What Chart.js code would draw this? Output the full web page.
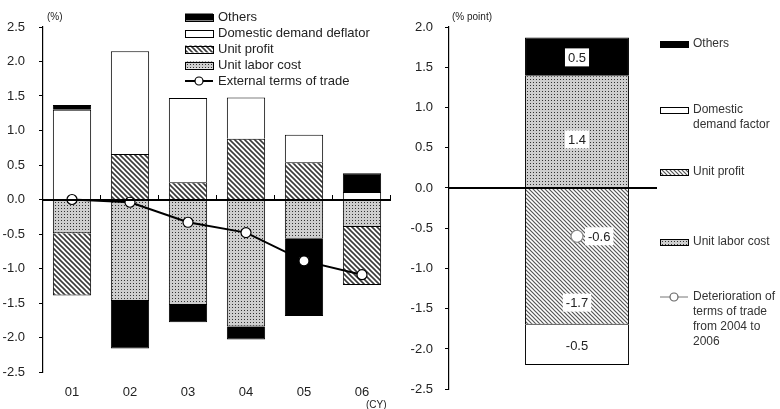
<!DOCTYPE html>
<html>
<head>
<meta charset="utf-8">
<script src="https://cdn.jsdelivr.net/npm/chart.js@4"></script>
<style>
  html, body { margin: 0; padding: 0; background: #fff; }
  #wrap { display: flex; width: 780px; height: 409px; }
  .panel { position: relative; height: 409px; }
</style>
</head>
<body>
<div id="wrap">
  <div class="panel" style="width:400px"><canvas id="left"></canvas></div>
  <div class="panel" style="width:380px"><canvas id="right"></canvas></div>
</div>
<script>
// ---- Left panel: year-on-year contributions (%) ----
const years = ['01', '02', '03', '04', '05', '06'];
const unitLaborCost    = [-0.49, -1.47, -1.53, -1.84, -0.57, -0.40];
const unitProfit       = [-0.90,  0.66,  0.25,  0.88,  0.54, -0.84];
const domesticDeflator = [ 1.30,  1.49,  1.22,  0.60,  0.40,  0.11];
const othersLeft       = [ 0.07, -0.69, -0.25, -0.19, -1.12,  0.27];
const externalTerms    = [ 0.00, -0.04, -0.33, -0.48, -0.89, -1.09];
const leftTickRange    = { min: -2.5, max: 2.5, step: 0.5 };

// ---- Right panel: breakdown of 2004-2006 change (% point) ----
const periodLabel      = ['2004-2006'];
const ulcChange        = [1.4];
const profitChange     = [-1.7];
const domesticChange   = [-0.5];
const othersChange     = [0.47];
const termsChange      = [-0.6];
const rightTickRange   = { min: -2.5, max: 2.0, step: 0.5 };

const FONT = 'Liberation Sans, Arial, sans-serif';
const TEXT = '#222';

function hatchPattern(size, color, width) {
  const c = document.createElement('canvas');
  c.width = c.height = size;
  const g = c.getContext('2d');
  g.fillStyle = '#fff';
  g.fillRect(0, 0, size, size);
  g.strokeStyle = color;
  g.lineWidth = width;
  g.beginPath();
  g.moveTo(-1, -1); g.lineTo(size + 1, size + 1);
  g.moveTo(-2, size - 2); g.lineTo(2, size + 2);
  g.moveTo(size - 2, -2); g.lineTo(size + 2, 2);
  g.stroke();
  return g.createPattern(c, 'repeat');
}

function dotPattern() {
  const c = document.createElement('canvas');
  c.width = c.height = 3;
  const g = c.getContext('2d');
  g.fillStyle = '#cecece';
  g.fillRect(0, 0, 3, 3);
  g.fillStyle = '#333';
  g.fillRect(1, 1, 1, 1);
  return g.createPattern(c, 'repeat');
}

const hatchL = hatchPattern(5, '#3a3a3a', 1.6);
const hatchR = hatchPattern(4, '#555', 1.2);
const dots = dotPattern();

// zero line, optional category separators on it, and free text notes
const axisDecor = {
  id: 'axisDecor',
  afterDatasetsDraw(chart, args, opts) {
    const { ctx, chartArea, scales } = chart;
    const y0 = Math.round(scales.y.getPixelForValue(0));
    const right = chartArea.left + (chartArea.right - chartArea.left) * (opts.zeroExtent || 1);
    ctx.save();
    ctx.fillStyle = '#000';
    ctx.fillRect(chartArea.left, y0 - 1, right - chartArea.left, 2);
    if (opts.separators) {
      const n = chart.data.labels.length;
      for (let i = 1; i <= n; i++) {
        const x = i < n
          ? (scales.x.getPixelForValue(i - 1) + scales.x.getPixelForValue(i)) / 2
          : chartArea.right;
        ctx.fillRect(Math.round(x) - 1, y0 - 5, 1, 5);
      }
    }
    ctx.restore();
  },
  afterDraw(chart, args, opts) {
    const { ctx } = chart;
    ctx.save();
    ctx.fillStyle = TEXT;
    ctx.textBaseline = 'middle';
    (opts.notes || []).forEach(n => {
      ctx.font = `${n.size}px ${FONT}`;
      ctx.textAlign = n.align || 'left';
      ctx.fillText(n.text, n.x, n.y);
    });
    ctx.restore();
  }
};

// legend drawn inside the panel: bar datasets top-down in reverse order, then the line
const panelLegend = {
  id: 'panelLegend',
  afterDraw(chart, args, opts) {
    const { ctx } = chart;
    ctx.save();
    ctx.textBaseline = 'middle';
    ctx.textAlign = 'left';
    ctx.font = `${opts.fontSize}px ${FONT}`;
    const idx = chart.data.datasets.map((d, i) => i);
    const order = idx.slice().reverse().filter(i => chart.data.datasets[i].type !== 'line')
      .concat(idx.filter(i => chart.data.datasets[i].type === 'line'));
    order.forEach((di, k) => {
      const ds = chart.data.datasets[di];
      const y = opts.rows[k];
      const x = opts.x;
      const w = opts.swatchW, h = opts.swatchH;
      if (ds.type === 'line') {
        ctx.strokeStyle = opts.lineColor;
        ctx.lineWidth = opts.lineWidth;
        ctx.beginPath();
        ctx.moveTo(x, y); ctx.lineTo(x + w, y);
        ctx.stroke();
        ctx.beginPath();
        ctx.arc(x + w / 2, y, opts.markerR, 0, Math.PI * 2);
        ctx.fillStyle = '#fff';
        ctx.fill();
        ctx.lineWidth = 1.2;
        ctx.strokeStyle = opts.markerStroke;
        ctx.stroke();
      } else {
        ctx.fillStyle = ds.backgroundColor;
        ctx.fillRect(x, y - h / 2, w, h);
        ctx.strokeStyle = '#000';
        ctx.lineWidth = 1;
        ctx.strokeRect(Math.round(x) + 0.5, Math.round(y - h / 2) + 0.5, w, h);
      }
      ctx.fillStyle = opts.color;
      const lines = (opts.labels && opts.labels[k]) || [ds.label];
      lines.forEach((t, j) => ctx.fillText(t, x + w + opts.gap, y + j * opts.lineStep));
    });
    ctx.restore();
  }
};

// value boxes on the right panel
const valueBoxes = {
  id: 'valueBoxes',
  afterDatasetsDraw(chart) {
    const { ctx } = chart;
    ctx.save();
    ctx.font = `13px ${FONT}`;
    ctx.textAlign = 'center';
    ctx.textBaseline = 'middle';
    chart.data.datasets.forEach((ds, di) => {
      if (!ds.valueBox) return;
      const meta = chart.getDatasetMeta(di);
      meta.data.forEach((el, i) => {
        const text = ds.data[i].toFixed(1);
        const p = el.getCenterPoint ? el.getCenterPoint() : { x: el.x, y: el.y };
        const cx = p.x + (ds.valueBox.dx || 0);
        const cy = p.y + (ds.valueBox.dy || 0);
        const tw = ctx.measureText(text).width;
        const bw = tw + 6, bh = 18;
        const bx = ds.valueBox.align === 'left' ? cx : cx - bw / 2;
        ctx.fillStyle = '#fff';
        ctx.fillRect(bx, cy - bh / 2, bw, bh);
        ctx.fillStyle = TEXT;
        ctx.fillText(text, bx + bw / 2, cy + 1);
      });
    });
    ctx.restore();
  }
};

Chart.defaults.font.family = FONT;
Chart.defaults.color = TEXT;
Chart.defaults.animation = false;

new Chart(document.getElementById('left'), {
  type: 'bar',
  data: {
    labels: years,
    datasets: [
      { label: 'Unit labor cost', data: unitLaborCost, backgroundColor: dots, borderColor: '#000', borderWidth: 1, order: 2 },
      { label: 'Unit profit', data: unitProfit, backgroundColor: hatchL, borderColor: '#000', borderWidth: 1, order: 2 },
      { label: 'Domestic demand deflator', data: domesticDeflator, backgroundColor: '#fff', borderColor: '#000', borderWidth: 1, order: 2 },
      { label: 'Others', data: othersLeft, backgroundColor: '#000', borderColor: '#000', borderWidth: 1, order: 2 },
      { type: 'line', label: 'External terms of trade', data: externalTerms, stack: 'terms',
        borderColor: '#000', borderWidth: 2, pointRadius: 5, pointBackgroundColor: '#fff',
        pointBorderColor: '#000', pointBorderWidth: 1.2, order: 1 }
    ]
  },
  options: {
    responsive: true,
    maintainAspectRatio: false,
    layout: { padding: { top: 27, right: 9, left: 0, bottom: 0 } },
    datasets: { bar: { barPercentage: 0.66, categoryPercentage: 1.0 } },
    scales: {
      x: {
        stacked: true,
        offset: true,
        grid: { display: false, drawTicks: false },
        border: { display: false },
        ticks: { padding: 13, font: { size: 13 }, color: TEXT },
        afterFit(s) { s.height = 37; }
      },
      y: {
        stacked: true,
        min: leftTickRange.min, max: leftTickRange.max,
        ticks: { stepSize: leftTickRange.step, callback: v => v.toFixed(1), font: { size: 13 }, color: TEXT, padding: 14 },
        grid: { drawOnChartArea: false, tickLength: 4, tickColor: '#000' },
        border: { display: true, color: '#000', width: 1.2 },
        afterFit(s) { s.width = 43; }
      }
    },
    plugins: {
      legend: { display: false },
      tooltip: { enabled: false },
      axisDecor: {
        separators: true,
        notes: [
          { text: '(%)', x: 47, y: 17, size: 10 },
          { text: '(CY)', x: 366, y: 405, size: 10 }
        ]
      },
      panelLegend: {
        x: 185, rows: [17, 33, 49, 65, 81], swatchW: 28, swatchH: 7, gap: 5,
        fontSize: 13, color: TEXT, lineStep: 15, lineWidth: 2, lineColor: '#000', markerR: 4, markerStroke: '#000'
      }
    }
  },
  plugins: [axisDecor, panelLegend]
});

new Chart(document.getElementById('right'), {
  type: 'bar',
  data: {
    labels: periodLabel,
    datasets: [
      { label: 'Unit labor cost', data: ulcChange, backgroundColor: dots, borderColor: '#000', borderWidth: 1, order: 2, valueBox: { dy: 8 } },
      { label: 'Unit profit', data: profitChange, backgroundColor: hatchR, borderColor: '#000', borderWidth: 1, order: 2, valueBox: { dy: 46 } },
      { label: 'Domestic demand factor', data: domesticChange, backgroundColor: '#fff', borderColor: '#000', borderWidth: 1, order: 2, valueBox: { dy: 0 } },
      { label: 'Others', data: othersChange, backgroundColor: '#000', borderColor: '#000', borderWidth: 1, order: 2, valueBox: { dy: 1 } },
      { type: 'line', label: 'Deterioration of terms of trade from 2004 to 2006', data: termsChange, stack: 'terms',
        borderColor: '#777', borderWidth: 1, pointRadius: 6, pointBackgroundColor: '#fff',
        pointBorderColor: '#888', pointBorderWidth: 1.2, order: 1, valueBox: { dx: 8, align: 'left' } }
    ]
  },
  options: {
    responsive: true,
    maintainAspectRatio: false,
    layout: { padding: { top: 27, right: 75, left: 0, bottom: 16 } },
    datasets: { bar: { barPercentage: 0.406, categoryPercentage: 1.0 } },
    scales: {
      x: { stacked: true, display: false, offset: true },
      y: {
        stacked: true,
        min: rightTickRange.min, max: rightTickRange.max,
        ticks: { stepSize: rightTickRange.step, callback: v => v.toFixed(1), font: { size: 13 }, color: TEXT, padding: 12 },
        grid: { drawOnChartArea: false, tickLength: 4, tickColor: '#000' },
        border: { display: true, color: '#000', width: 1.2 },
        afterFit(s) { s.width = 49; }
      }
    },
    plugins: {
      legend: { display: false },
      tooltip: { enabled: false },
      axisDecor: {
        zeroExtent: 0.8125,
        notes: [ { text: '(% point)', x: 52, y: 17, size: 10 } ]
      },
      panelLegend: {
        x: 260, rows: [44, 110, 172, 242, 297], swatchW: 28, swatchH: 6, gap: 5,
        fontSize: 12, color: '#333', lineStep: 15, lineWidth: 1, lineColor: '#777', markerR: 4, markerStroke: '#666',
        labels: [
          ['Others'],
          ['Domestic', 'demand factor'],
          ['Unit profit'],
          ['Unit labor cost'],
          ['Deterioration of', 'terms of trade', 'from 2004 to', '2006']
        ]
      }
    }
  },
  plugins: [axisDecor, panelLegend, valueBoxes]
});
</script>
</body>
</html>
